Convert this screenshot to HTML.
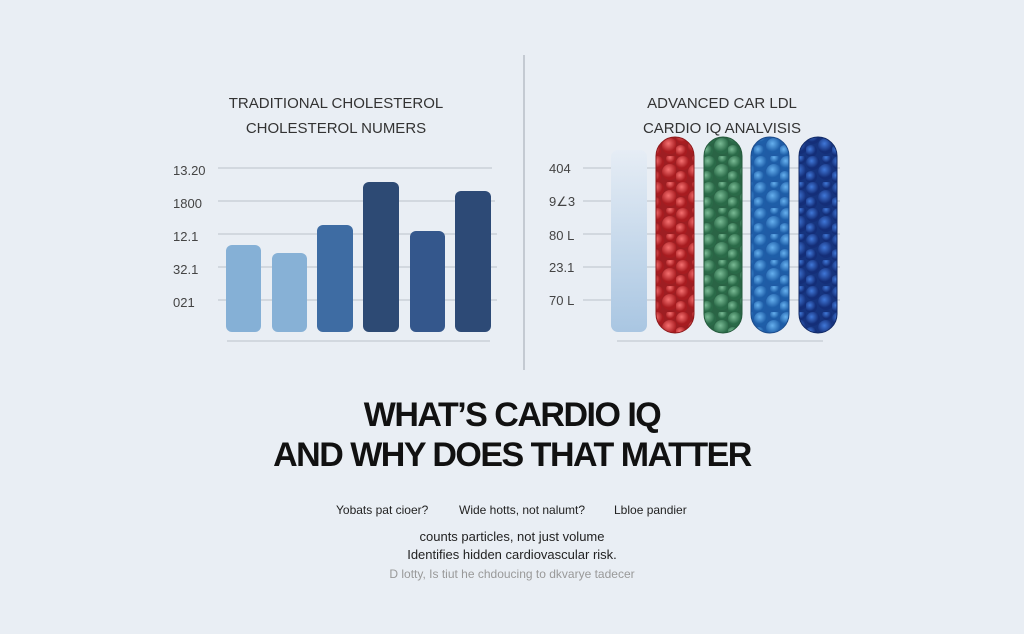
<!DOCTYPE html>
<html><head><meta charset="utf-8"><style>
body{margin:0;width:1024px;height:634px;background:#e9eef4;font-family:"Liberation Sans",sans-serif;overflow:hidden;position:relative}
.t{position:absolute;color:#333;text-align:center;white-space:nowrap}
</style></head><body>
<svg width="1024" height="634" style="position:absolute;left:0;top:0">
<defs>
<radialGradient id="rg" cx="0.4" cy="0.35"><stop offset="0" stop-color="#f57070"/><stop offset="1" stop-color="#a81c20"/></radialGradient>
<radialGradient id="gg" cx="0.4" cy="0.35"><stop offset="0" stop-color="#7abb95"/><stop offset="1" stop-color="#2a6a48"/></radialGradient>
<radialGradient id="bg" cx="0.4" cy="0.35"><stop offset="0" stop-color="#66b0ee"/><stop offset="1" stop-color="#1e5ea8"/></radialGradient>
<radialGradient id="ng" cx="0.4" cy="0.35"><stop offset="0" stop-color="#4078d8"/><stop offset="1" stop-color="#142e78"/></radialGradient>
<pattern id="pr" width="26" height="26" patternUnits="userSpaceOnUse"><rect width="26" height="26" fill="#9e1e22"/><circle cx="7" cy="7" r="7" fill="url(#rg)"/><circle cx="20" cy="16" r="8" fill="url(#rg)"/><circle cx="5" cy="21" r="6" fill="url(#rg)"/><circle cx="21" cy="3" r="5" fill="url(#rg)"/></pattern>
<pattern id="pg" width="26" height="26" patternUnits="userSpaceOnUse"><rect width="26" height="26" fill="#2a6445"/><circle cx="7" cy="7" r="7" fill="url(#gg)"/><circle cx="20" cy="16" r="8" fill="url(#gg)"/><circle cx="5" cy="21" r="6" fill="url(#gg)"/><circle cx="21" cy="3" r="5" fill="url(#gg)"/></pattern>
<pattern id="pb" width="26" height="26" patternUnits="userSpaceOnUse"><rect width="26" height="26" fill="#1f5ca6"/><circle cx="7" cy="7" r="7" fill="url(#bg)"/><circle cx="20" cy="16" r="8" fill="url(#bg)"/><circle cx="5" cy="21" r="6" fill="url(#bg)"/><circle cx="21" cy="3" r="5" fill="url(#bg)"/></pattern>
<pattern id="pn" width="26" height="26" patternUnits="userSpaceOnUse"><rect width="26" height="26" fill="#16347e"/><circle cx="7" cy="7" r="7" fill="url(#ng)"/><circle cx="20" cy="16" r="8" fill="url(#ng)"/><circle cx="5" cy="21" r="6" fill="url(#ng)"/><circle cx="21" cy="3" r="5" fill="url(#ng)"/></pattern>
<linearGradient id="lg" x1="0" y1="0" x2="0" y2="1"><stop offset="0" stop-color="#e6edf5"/><stop offset="1" stop-color="#a9c6e2"/></linearGradient>
</defs>
<g stroke="#c4cad2" stroke-width="1.3">
<line x1="218" y1="168" x2="492" y2="168"/><line x1="218" y1="201" x2="495" y2="201"/><line x1="218" y1="234" x2="497" y2="234"/><line x1="218" y1="267" x2="497" y2="267"/><line x1="218" y1="300" x2="497" y2="300"/>
<line x1="227" y1="341" x2="490" y2="341"/>
<line x1="583" y1="168" x2="840" y2="168"/><line x1="583" y1="201" x2="840" y2="201"/><line x1="583" y1="234" x2="840" y2="234"/><line x1="583" y1="267" x2="840" y2="267"/><line x1="583" y1="300" x2="840" y2="300"/>
<line x1="617" y1="341" x2="823" y2="341"/>
</g>
<line x1="524" y1="55" x2="524" y2="370" stroke="#b8bec6" stroke-width="1.5"/>
<rect x="226" y="245" width="35" height="87" rx="6" fill="#85b0d6"/>
<rect x="272" y="253" width="35" height="79" rx="6" fill="#87b1d6"/>
<rect x="317" y="225" width="36" height="107" rx="6" fill="#3e6ca3"/>
<rect x="363" y="182" width="36" height="150" rx="6" fill="#2d4a74"/>
<rect x="410" y="231" width="35" height="101" rx="6" fill="#34578c"/>
<rect x="455" y="191" width="36" height="141" rx="6" fill="#2d4a76"/>
<rect x="611" y="150" width="36" height="182" rx="7" fill="url(#lg)"/>
<rect x="656" y="137" width="38" height="196" rx="19" fill="url(#pr)" stroke="#8e1a1c" stroke-width="1"/>
<rect x="704" y="137" width="38" height="196" rx="19" fill="url(#pg)" stroke="#245a3c" stroke-width="1"/>
<rect x="751" y="137" width="38" height="196" rx="19" fill="url(#pb)" stroke="#1c4c8c" stroke-width="1"/>
<rect x="799" y="137" width="38" height="196" rx="19" fill="url(#pn)" stroke="#122a66" stroke-width="1"/>
<g font-family="Liberation Sans,sans-serif" font-size="13" fill="#444">
<text x="173" y="175">13.20</text><text x="173" y="208">1800</text><text x="173" y="241">12.1</text><text x="173" y="274">32.1</text><text x="173" y="307">021</text>
<text x="549" y="173">404</text><text x="549" y="206">9∠3</text><text x="549" y="240">80 L</text><text x="549" y="272">23.1</text><text x="549" y="305">70 L</text>
</g>
</svg>
<div class="t" style="left:186px;width:300px;top:91px;font-size:15px;line-height:25px">TRADITIONAL CHOLESTEROL<br>CHOLESTEROL NUMERS</div>
<div class="t" style="left:572px;width:300px;top:91px;font-size:15px;line-height:25px">ADVANCED CAR LDL<br>CARDIO IQ ANALVISIS</div>
<div class="t" style="left:212px;width:600px;top:395px;font-size:34px;line-height:40px;font-weight:bold;color:#111;letter-spacing:-1.5px">WHAT’S CARDIO IQ<br>AND WHY DOES THAT MATTER</div>
<div class="t" style="left:336px;top:503px;font-size:12px;color:#222">Yobats pat cioer?</div>
<div class="t" style="left:459px;top:503px;font-size:12px;color:#222">Wide hotts, not nalumt?</div>
<div class="t" style="left:614px;top:503px;font-size:12px;color:#222">Lbloe pandier</div>
<div class="t" style="left:312px;width:400px;top:529px;font-size:13px;color:#222">counts particles, not just volume</div>
<div class="t" style="left:312px;width:400px;top:547px;font-size:13px;color:#222">Identifies hidden cardiovascular risk.</div>
<div class="t" style="left:312px;width:400px;top:567px;font-size:12px;color:#999">D lotty, Is tiut he chdoucing to dkvarye tadecer</div>
</body></html>
